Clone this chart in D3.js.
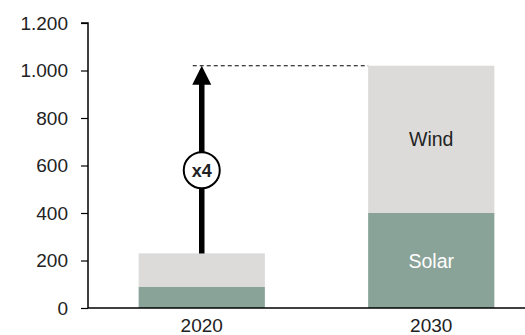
<!DOCTYPE html>
<html>
<head>
<meta charset="utf-8">
<script src="https://cdn.jsdelivr.net/npm/d3@7"></script>
<style>
  html, body { margin: 0; padding: 0; background: #fff; }
  svg { display: block; font-family: "Liberation Sans", Arial, sans-serif; }
</style>
</head>
<body>
<svg id="chart" width="525" height="335"></svg>
<script>
// Installed capacity by year, stacked solar + wind
const years = ["2020", "2030"];
const solar = [90, 400];
const wind = [140, 620];
const yTicks = [0, 200, 400, 600, 800, 1000, 1200];
const growthLabel = "x4";
const badgeValue = 580;

const colors = { solar: "#8aa398", wind: "#dcdbda" };
const ink = "#222";

const svg = d3.select("#chart");
const x0 = 88, x1 = 546, yTop = 23, yBottom = 308;

const x = d3.scaleBand().domain(years).range([x0 - 1, x1]).paddingInner(0.45).paddingOuter(0.225);
const y = d3.scaleLinear().domain([0, 1200]).range([yBottom, yTop]);

const fmt = d => d3.format(",")(d).replace(/,/g, ".");

// y axis
const yAxis = svg.append("g")
  .attr("transform", `translate(${x0},0)`)
  .call(d3.axisLeft(y).tickValues(yTicks).tickSize(7).tickPadding(13).tickFormat(fmt));
yAxis.attr("font-family", null).attr("font-size", null);
yAxis.select(".domain").attr("stroke", "#000").attr("stroke-width", 1.5).attr("d", `M-7,${yTop}H0V${yBottom}`);
yAxis.selectAll(".tick line").attr("stroke", "#000").attr("stroke-width", 1.2);
yAxis.selectAll(".tick text").attr("fill", ink).style("font-size", "19px").attr("dy", "0.33em");

// stacked bars
const stack = years.map((yr, i) => ({ yr, s: solar[i], w: wind[i] }));
const bars = svg.append("g");
bars.selectAll("rect.solar").data(stack).join("rect")
  .attr("class", "solar")
  .attr("x", d => x(d.yr)).attr("width", x.bandwidth())
  .attr("y", d => y(d.s)).attr("height", d => y(0) - y(d.s))
  .attr("fill", colors.solar);
bars.selectAll("rect.wind").data(stack).join("rect")
  .attr("class", "wind")
  .attr("x", d => x(d.yr)).attr("width", x.bandwidth())
  .attr("y", d => y(d.s + d.w)).attr("height", d => y(d.s) - y(d.s + d.w))
  .attr("fill", colors.wind);

// segment labels on the 2030 bar
const last = stack[1];
const cx2 = x(last.yr) + x.bandwidth() / 2;
svg.append("text").attr("x", cx2).attr("y", y(last.s + last.w / 2) + 7)
  .attr("text-anchor", "middle").style("font-size", "19.5px").attr("fill", ink).text("Wind");
svg.append("text").attr("x", cx2).attr("y", y(last.s / 2) + 7.5)
  .attr("text-anchor", "middle").style("font-size", "19.5px").attr("fill", "#fff").text("Solar");

// x axis baseline and labels
svg.append("line").attr("x1", x0).attr("x2", 525).attr("y1", yBottom).attr("y2", yBottom)
  .attr("stroke", "#000").attr("stroke-width", 1.5);
svg.append("g").selectAll("text").data(years).join("text")
  .attr("x", d => x(d) + x.bandwidth() / 2).attr("y", 332)
  .attr("text-anchor", "middle").style("font-size", "19px").attr("fill", ink).text(d => d);

// growth arrow from 2020 total up to 2030 total
const first = stack[0];
const ax = x(first.yr) + x.bandwidth() / 2;
const yFrom = y(first.s + first.w), yTo = y(last.s + last.w);

svg.append("line").attr("x1", ax - 9).attr("x2", x(last.yr)).attr("y1", yTo).attr("y2", yTo)
  .attr("stroke", "#000").attr("stroke-width", 1).attr("stroke-dasharray", "4,3");
svg.append("line").attr("x1", ax).attr("x2", ax).attr("y1", yFrom).attr("y2", yTo + 15)
  .attr("stroke", "#000").attr("stroke-width", 5.5);
svg.append("path")
  .attr("d", `M${ax},${yTo}L${ax + 9.5},${yTo + 19}L${ax - 9.5},${yTo + 19}Z`)
  .attr("fill", "#000");

const by = y(badgeValue);
svg.append("circle").attr("cx", ax).attr("cy", by).attr("r", 18)
  .attr("fill", "#fff").attr("stroke", "#000").attr("stroke-width", 2);
svg.append("text").attr("x", ax).attr("y", by + 6.5)
  .attr("text-anchor", "middle").style("font-size", "18px").attr("font-weight", "bold")
  .attr("fill", ink).text(growthLabel);
</script>
</body>
</html>
